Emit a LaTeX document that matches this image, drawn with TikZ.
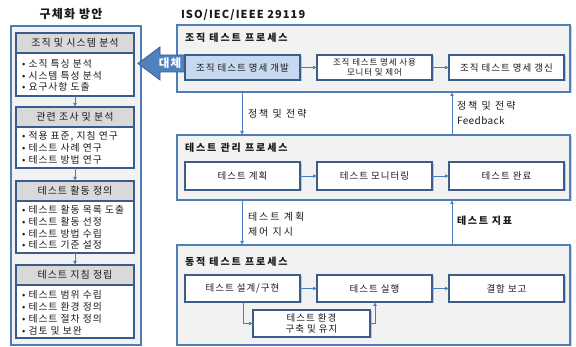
\documentclass[tikz,border=0pt]{standalone}
\usepackage{fontspec}
\setmainfont{Noto Sans CJK KR}[LetterSpace=10]
\usetikzlibrary{arrows.meta,shadows}
\definecolor{lineblue}{HTML}{4A7EBB}
\definecolor{boxborder}{HTML}{385D8A}
\definecolor{outerfill}{HTML}{F2F2F2}
\definecolor{outerborder}{HTML}{4F7DB5}
\definecolor{hdrfill}{HTML}{D9D9D9}
\definecolor{lightblue}{HTML}{C6D9F1}
\definecolor{arrowfill}{HTML}{4F81BD}
\definecolor{txt}{HTML}{1A1A1A}
\tikzset{
  every node/.style={inner sep=0pt, outer sep=0pt, text=txt},
  procbox/.style={draw=outerborder, line width=1.1pt, fill=outerfill, rectangle,
     drop shadow={shadow xshift=1.5pt, shadow yshift=-1.5pt, opacity=0.35, fill=gray}},
  stepbox/.style={draw=boxborder, line width=1.2pt, fill=white, rectangle,
     minimum width=115pt, font=\fontsize{9.5}{11}\selectfont, align=center,
     drop shadow={shadow xshift=1.5pt, shadow yshift=-1.5pt, opacity=0.4, fill=gray}},
  hdrbox/.style={draw=boxborder, line width=1.1pt, fill=hdrfill, rectangle,
     minimum width=118pt, minimum height=20pt, font=\fontsize{10}{11}\selectfont},
  listbox/.style={draw=boxborder, line width=1.1pt, fill=white, rectangle,
     minimum width=118pt},
  listtext/.style={anchor=west, align=left, font=\fontsize{9.8}{11.8}\selectfont},
  plabel/.style={anchor=west, font=\bfseries\fontsize{10}{11}\selectfont\addfontfeature{LetterSpace=19}},
  flabel/.style={anchor=west, align=left, font=\fontsize{10}{15}\selectfont\addfontfeature{LetterSpace=20}},
  arr/.style={draw=lineblue, line width=0.9pt, -{Latex[length=4pt,width=4pt]}},
}
\begin{document}
\begin{tikzpicture}[x=1pt,y=-1pt]
\useasboundingbox (0,0) rectangle (576,347);

% ---------------- left panel ----------------
\node[font=\bfseries\fontsize{12}{14}\selectfont] (ltitle) at (71,14) {구체화 방안};
\node[draw=outerborder, line width=1.1pt, fill=outerfill, minimum width=130pt, minimum height=319pt] (lpanel) at (76,185.5) {};

\node[hdrbox] (h1) at (75,43) {조직 및 시스템 분석};
\node[listbox, minimum height=43pt] (l1) at (75,74.5) {};
\node[listtext] (l1t) at (22,75.5) {• 소직 특싱 분석\\• 시스템 특성 분석\\• 요구사항 도출};
\node[hdrbox] (h2) at (75,117) {관련 조사 및 분석};
\node[listbox, minimum height=41pt] (l2) at (75,147.5) {};
\node[listtext] (l2t) at (22,148) {• 적용 표준, 지침 연구\\• 테스트 사례 연구\\• 테스트 방법 연구};
\node[hdrbox] (h3) at (75,191) {테스트 활동 정의};
\node[listbox, minimum height=52pt] (l3) at (75,227) {};
\node[listtext] (l3t) at (22,227.5) {• 테스트 활동 목록 도출\\• 테스트 활동 선정\\• 테스트 방법 수립\\• 테스트 기준 설정};
\node[hdrbox] (h4) at (75,275) {테스트 지침 정립};
\node[listbox, minimum height=53pt] (l4) at (75,311.5) {};
\node[listtext] (l4t) at (22,313) {• 테스트 범위 수립\\• 테스트 환경 정의\\• 테스트 절차 정의\\• 검토 및 보완};

\draw[arr] (l1.south) -- (h2.north);
\draw[arr] (l2.south) -- (h3.north);
\draw[arr] (l3.south) -- (h4.north);

% ---------------- right panel ----------------
\node[anchor=west, font=\bfseries\fontsize{11}{13}\selectfont] (rtitle) at (181,15) {ISO/IEC/IEEE 29119};

\node[procbox, minimum width=393pt, minimum height=67pt] (p1) at (373.5,58.5) {};
\node[procbox, minimum width=393pt, minimum height=65pt] (p2) at (373.5,167.5) {};
\node[procbox, minimum width=393pt, minimum height=100pt] (p3) at (373.5,295) {};

\node[plabel] (p1l) at (185,38) {조직 테스트 프로세스};
\node[plabel] (p2l) at (185,148) {테스트 관리 프로세스};
\node[plabel] (p3l) at (185,262) {동적 테스트 프로세스};

% substitution arrow
\fill[arrowfill, draw=boxborder, line width=0.8pt]
  (186,55) -- (160,55) -- (160,47) -- (138,63.5) -- (160,80) -- (160,72) -- (186,72) -- cycle;
\node[text=white, font=\bfseries\fontsize{11.5}{13}\selectfont] (subst) at (170,63.5) {대체};

% row 1
\node[stepbox, fill=lightblue, minimum height=25pt] (a) at (242.5,67.5) {조직 테스트 명세 개발};
\node[stepbox, minimum height=25pt, font=\fontsize{8.5}{10}\selectfont] (b) at (374.5,67.5) {조직 테스트 명세 사용\\모니터 및 제어};
\node[stepbox, minimum height=25pt] (c) at (506.5,67.5) {조직 테스트 명세 갱신};
\draw[arr] (a) -- (b);
\draw[arr] (b) -- (c);

% row 2
\node[stepbox, minimum height=28pt] (d) at (242.5,176) {테스트 계획};
\node[stepbox, minimum height=28pt] (e) at (374.5,176) {테스트 모니터링};
\node[stepbox, minimum height=28pt] (f) at (506.5,176) {테스트 완료};
\draw[arr] (d) -- (e);
\draw[arr] (e) -- (f);

% row 3
\node[stepbox, minimum height=27pt] (g) at (242.5,288.5) {테스트 설계/구현};
\node[stepbox, minimum height=27pt] (h) at (374.5,288.5) {테스트 실행};
\node[stepbox, minimum height=27pt] (i) at (506.5,288.5) {결함 보고};
\node[stepbox, minimum width=117pt, minimum height=27pt] (env) at (311.5,323.5) {테스트 환경\\구축 및 유지};
\draw[arr] (g) -- (h);
\draw[arr] (h) -- (i);
\coordinate (gx) at (243,0);
\coordinate (hx) at (375,0);
\draw[arr] (g.south -| gx) |- (env.west);
\draw[arr] (env.east) -| (h.south -| hx);

% inter-process arrows
\coordinate (dn) at (242,0);
\coordinate (up) at (452,0);
\draw[arr] (p1.south -| dn) -- (p2.north -| dn);
\draw[arr] (p2.north -| up) -- (p1.south -| up);
\draw[arr] (p2.south -| dn) -- (p3.north -| dn);
\draw[arr] (p3.north -| up) -- (p2.south -| up);

\node[flabel] (t1) at (248,114) {정책 및 전략};
\node[flabel] (t2) at (457,112.5) {정책 및 전략\\{\addfontfeature{LetterSpace=4}Feedback}};
\node[flabel] (t3) at (248,224.5) {테스트 계획\\제어 지시};
\node[anchor=west, font=\bfseries\fontsize{10}{11}\selectfont\addfontfeature{LetterSpace=17}] (t4) at (457,221) {테스트 지표};
\end{tikzpicture}
\end{document}
